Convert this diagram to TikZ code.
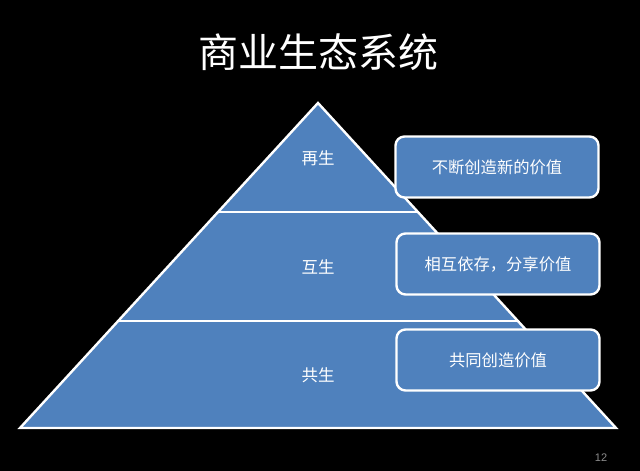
\documentclass[tikz,border=0pt]{standalone}
\usepackage{fontspec}
\setmainfont{Noto Sans CJK SC}
\newfontfamily\latinfont{Liberation Sans}
\definecolor{pyrblue}{HTML}{4F81BD}
\definecolor{pagegray}{HTML}{8C8C8C}
\begin{document}
\begin{tikzpicture}[x=1pt,y=1pt,
  layer/.style={text=white,font=\fontsize{16.5}{18}\selectfont},
  valbox/.style={draw=white,line width=2.4pt,fill=pyrblue,rounded corners=9pt,
    minimum width=203pt,minimum height=61pt,inner sep=0pt,text=white,
    font=\fontsize{16.3}{18}\selectfont},
  edge/.style={draw=white,line width=2.4pt}]
\fill[black] (0,0) rectangle (640,471);
\useasboundingbox (0,0) rectangle (640,471);
% title
\node[text=white,font=\fontsize{40}{44}\selectfont] (title) at (318,419) {商业生态系统};
% pyramid
\coordinate (apex) at (318,368);
\coordinate (bl) at (20,43);
\coordinate (br) at (616,43);
\coordinate (d1l) at (218,259);
\coordinate (d1r) at (418,259);
\coordinate (d2l) at (119,150);
\coordinate (d2r) at (517,150);
\fill[pyrblue] (apex) -- (br) -- (bl) -- cycle;
\draw[edge,line join=miter] (apex) -- (br) -- (bl) -- cycle;
\draw[edge] (d1l) -- (d1r);
\draw[edge] (d2l) -- (d2r);
\node[layer] (l1) at (318,313) {再生};
\node[layer] (l2) at (318,204) {互生};
\node[layer] (l3) at (318,96) {共生};
% boxes
\node[valbox] (b1) at (497,304) {不断创造新的价值};
\node[valbox] (b2) at (498,207) {相互依存，分享价值};
\node[valbox] (b3) at (498,111) {共同创造价值};
% page number
\node[text=pagegray,font=\latinfont\fontsize{11}{12}\selectfont] (pg) at (601,13) {12};
\end{tikzpicture}
\end{document}
